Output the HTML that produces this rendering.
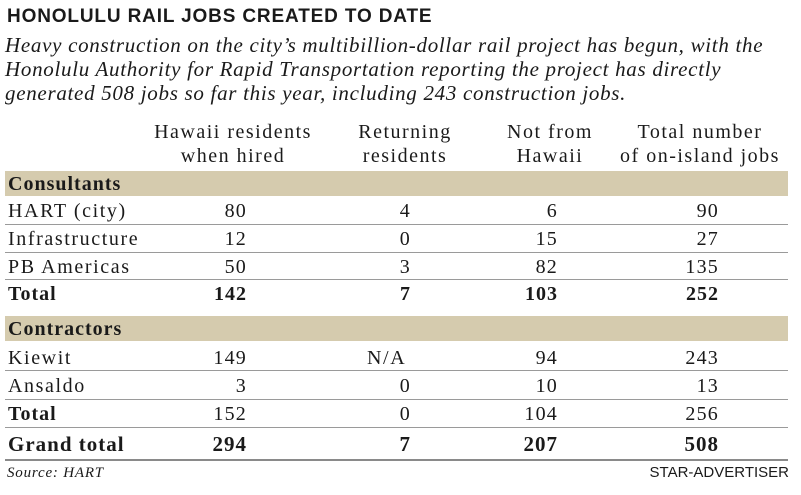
<!DOCTYPE html>
<html><head><style>
body{margin:0;width:801px;height:495px;background:#fff;position:relative;overflow:hidden;font-family:"Liberation Serif",serif;color:#1a1a1a}
div{position:absolute;white-space:nowrap}
.t{left:7px;top:6px;font:bold 19px "Liberation Sans",sans-serif;letter-spacing:0.85px}
.s{left:5px;font-style:italic;font-size:21px;line-height:24px;letter-spacing:0.7px}
.h{font-size:20px;text-align:center;line-height:24px;width:240px;letter-spacing:1.5px}
.band{left:5px;width:783px;background:#d5cbae;height:25px}
.line{left:5px;width:783px;height:1px;background:#9a9a9a}
.r{font-size:20px;line-height:24px;letter-spacing:1.6px}
.n{font-size:20px;line-height:24px;text-align:right;width:80px;letter-spacing:1.2px}
.n{margin-right:-1.2px}
b{font-weight:bold;letter-spacing:1px}
</style></head><body>
<div class="t">HONOLULU RAIL JOBS CREATED TO DATE</div>
<div class="s" style="top:33px">Heavy construction on the city’s multibillion-dollar rail project has begun, with the</div>
<div class="s" style="top:57px">Honolulu Authority for Rapid Transportation reporting the project has directly</div>
<div class="s" style="top:81px">generated 508 jobs so far this year, including 243 construction jobs.</div>

<div class="h" style="left:113px;top:120px">Hawaii residents<br>when hired</div>
<div class="h" style="left:285px;top:120px">Returning<br>residents</div>
<div class="h" style="left:430px;top:120px">Not from<br>Hawaii</div>
<div class="h" style="left:580px;top:120px">Total number<br>of on-island jobs</div>

<div class="band" style="top:171px"></div>
<div class="r" style="left:8px;top:172px"><b>Consultants</b></div>
<div class="line" style="top:224px"></div>
<div class="line" style="top:252px"></div>
<div class="line" style="top:279px"></div>

<div class="r" style="left:8px;top:199px">HART (city)</div>
<div class="n" style="left:167px;top:199px">80</div><div class="n" style="left:331px;top:199px">4</div><div class="n" style="left:478px;top:199px">6</div><div class="n" style="left:639px;top:199px">90</div>
<div class="r" style="left:8px;top:227px">Infrastructure</div>
<div class="n" style="left:167px;top:227px">12</div><div class="n" style="left:331px;top:227px">0</div><div class="n" style="left:478px;top:227px">15</div><div class="n" style="left:639px;top:227px">27</div>
<div class="r" style="left:8px;top:255px">PB Americas</div>
<div class="n" style="left:167px;top:255px">50</div><div class="n" style="left:331px;top:255px">3</div><div class="n" style="left:478px;top:255px">82</div><div class="n" style="left:639px;top:255px">135</div>
<div class="r" style="left:8px;top:282px"><b>Total</b></div>
<div class="n" style="left:167px;top:282px"><b>142</b></div><div class="n" style="left:331px;top:282px"><b>7</b></div><div class="n" style="left:478px;top:282px"><b>103</b></div><div class="n" style="left:639px;top:282px"><b>252</b></div>

<div class="band" style="top:316px"></div>
<div class="r" style="left:8px;top:317px"><b>Contractors</b></div>
<div class="line" style="top:370px"></div>
<div class="line" style="top:399px"></div>
<div class="line" style="top:427px"></div>
<div style="left:5px;width:783px;height:2px;top:459px;background:#8a8a8a"></div>

<div class="r" style="left:8px;top:346px">Kiewit</div>
<div class="n" style="left:167px;top:346px">149</div><div class="r" style="left:367px;top:346px">N/A</div><div class="n" style="left:478px;top:346px">94</div><div class="n" style="left:639px;top:346px">243</div>
<div class="r" style="left:8px;top:374px">Ansaldo</div>
<div class="n" style="left:167px;top:374px">3</div><div class="n" style="left:331px;top:374px">0</div><div class="n" style="left:478px;top:374px">10</div><div class="n" style="left:639px;top:374px">13</div>
<div class="r" style="left:8px;top:402px"><b>Total</b></div>
<div class="n" style="left:167px;top:402px">152</div><div class="n" style="left:331px;top:402px">0</div><div class="n" style="left:478px;top:402px">104</div><div class="n" style="left:639px;top:402px">256</div>
<div class="r" style="left:8px;top:432px;font-size:21px"><b>Grand total</b></div>
<div class="n" style="left:167px;top:432px;font-size:21px"><b>294</b></div><div class="n" style="left:331px;top:432px;font-size:21px"><b>7</b></div><div class="n" style="left:478px;top:432px;font-size:21px"><b>207</b></div><div class="n" style="left:639px;top:432px;font-size:21px"><b>508</b></div>

<div style="left:7px;top:465px;font-style:italic;font-size:15px;letter-spacing:0.8px">Source: HART</div>
<div style="right:12px;top:464px;font:15px 'Liberation Sans',sans-serif">STAR-ADVERTISER</div>
</body></html>
